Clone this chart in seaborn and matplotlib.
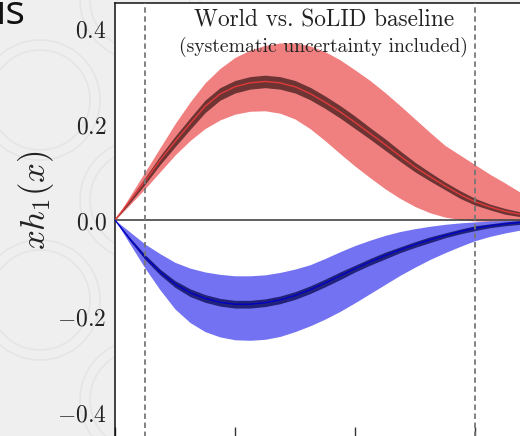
import matplotlib
matplotlib.use("Agg")
import numpy as np
import pandas as pd
import matplotlib.pyplot as plt
import seaborn as sns
from matplotlib.patches import Circle
from matplotlib.transforms import IdentityTransform

# ---------------- data ----------------
x_vals = [0.000, 0.025, 0.050, 0.075, 0.100, 0.125, 0.150, 0.175, 0.200, 0.225,
          0.250, 0.275, 0.300, 0.325, 0.350, 0.375, 0.400, 0.425, 0.450, 0.475,
          0.500, 0.525, 0.550, 0.575, 0.600, 0.625, 0.650, 0.675, 0.700]

red_mid = [0.000, 0.040, 0.081, 0.124, 0.163, 0.200, 0.236, 0.262, 0.277, 0.285,
           0.288, 0.285, 0.277, 0.263, 0.245, 0.225, 0.203, 0.180, 0.157, 0.133,
           0.110, 0.090, 0.071, 0.053, 0.038, 0.027, 0.018, 0.012, 0.008]
red_hi = [0.000, 0.050, 0.100, 0.150, 0.200, 0.245, 0.285, 0.315, 0.338, 0.353,
          0.363, 0.368, 0.368, 0.362, 0.350, 0.333, 0.312, 0.290, 0.265, 0.238,
          0.210, 0.182, 0.155, 0.135, 0.115, 0.095, 0.077, 0.058, 0.045]
red_lo = [0.000, 0.032, 0.065, 0.100, 0.135, 0.165, 0.190, 0.208, 0.220, 0.226,
          0.227, 0.222, 0.210, 0.190, 0.165, 0.138, 0.112, 0.088, 0.065, 0.045,
          0.028, 0.015, 0.006, 0.001, -0.002, -0.003, -0.003, -0.003, -0.003]
red_err = [0.000, 0.004, 0.007, 0.009, 0.011, 0.012, 0.013, 0.013, 0.013, 0.013,
           0.013, 0.013, 0.013, 0.013, 0.013, 0.013, 0.013, 0.012, 0.012, 0.011,
           0.010, 0.009, 0.008, 0.008, 0.007, 0.006, 0.006, 0.005, 0.005]

blue_mid = [0.000, -0.040, -0.077, -0.108, -0.133, -0.151, -0.163, -0.171, -0.175, -0.175,
            -0.172, -0.166, -0.157, -0.145, -0.131, -0.116, -0.101, -0.087, -0.074, -0.062,
            -0.051, -0.041, -0.032, -0.024, -0.017, -0.012, -0.008, -0.005, -0.003]
blue_hi = [0.000, -0.025, -0.050, -0.070, -0.088, -0.100, -0.108, -0.113, -0.116, -0.116,
           -0.114, -0.109, -0.102, -0.093, -0.080, -0.066, -0.053, -0.042, -0.032, -0.024,
           -0.018, -0.013, -0.009, -0.006, -0.004, -0.002, -0.001, 0.000, 0.000]
blue_lo = [0.000, -0.050, -0.100, -0.145, -0.185, -0.213, -0.232, -0.243, -0.249, -0.250,
           -0.248, -0.242, -0.232, -0.220, -0.206, -0.190, -0.172, -0.153, -0.134, -0.115,
           -0.098, -0.082, -0.068, -0.055, -0.043, -0.034, -0.027, -0.021, -0.016]
blue_err = [0.000, 0.003, 0.005, 0.006, 0.007, 0.008, 0.008, 0.008, 0.008, 0.008,
            0.008, 0.008, 0.008, 0.008, 0.008, 0.008, 0.007, 0.007, 0.007, 0.006,
            0.006, 0.006, 0.005, 0.005, 0.005, 0.004, 0.004, 0.004, 0.004]

x_bounds = [0.05, 0.6]
x_ticks = [0.0, 0.2, 0.4, 0.6, 0.8, 1.0]
y_ticks = [-0.4, -0.2, 0.0, 0.2, 0.4]
y_tick_labels = [r"$-0.4$", r"$-0.2$", r"$0.0$", r"$0.2$", r"$0.4$"]
title_main = "World vs. SoLID baseline"
title_sub = "(systematic uncertainty included)"
y_label = r"$xh_1(x)$"
corner_text = "is"

# ---------------- styling ----------------
sns.set_theme(style="white")
plt.rcParams["mathtext.fontset"] = "cm"
plt.rcParams["font.family"] = ["DejaVu Sans"]

W, H = 520, 436
fig = plt.figure(figsize=(W / 100, H / 100), dpi=100, facecolor="#efefef")

# faint slide ornament in the background (pixel coordinates, y from bottom)
for (cx, cy) in [(40, H - 100), (40, H - 300), (140, H - 200), (140, H - 400), (140, H)]:
    for r in (50, 60):
        fig.add_artist(Circle((cx, cy), r, transform=IdentityTransform(),
                              fill=False, ec="#e5e5e5", lw=1.2, zorder=0))

ax = fig.add_axes([115 / W, (H - 436.5) / H, 600 / W, 433 / H])
ax.set_facecolor("white")
ax.set_zorder(2)

df = pd.DataFrame({"x": x_vals, "red_mid": red_mid, "red_hi": red_hi, "red_lo": red_lo,
                   "red_err": red_err, "blue_mid": blue_mid, "blue_hi": blue_hi,
                   "blue_lo": blue_lo, "blue_err": blue_err})

# red (outer / inner)
ax.fill_between(df["x"], df["red_lo"], df["red_hi"], color="#f08080", lw=0, zorder=1)
ax.fill_between(df["x"], df["red_mid"] - df["red_err"], df["red_mid"] + df["red_err"],
                color="#6e3434", lw=0, zorder=2)
sns.lineplot(data=df, x="x", y="red_mid", ax=ax, color="#e03a3a", lw=1.0, zorder=3)

# blue (outer / inner)
ax.fill_between(df["x"], df["blue_lo"], df["blue_hi"], color="#7272f2", lw=0, zorder=1.5)
ax.fill_between(df["x"], df["blue_mid"] - df["blue_err"], df["blue_mid"] + df["blue_err"],
                color="#22227a", lw=0, zorder=2.5)
sns.lineplot(data=df, x="x", y="blue_mid", ax=ax, color="#0000c8", lw=1.0, zorder=3.5)

ax.axhline(0.0, color="#444444", lw=1.2, zorder=2.2)
for xb in x_bounds:
    ax.axvline(xb, color="#777777", lw=1.3, ls=(0, (3.0, 2.0)), zorder=5)

ax.set_xlim(0.0, 1.0)
ax.set_ylim(-0.45, 0.45)
ax.set_xticks(x_ticks)
ax.set_yticks(y_ticks, y_tick_labels)
ax.tick_params(axis="x", direction="in", length=7, width=1, color="#333333",
               labelbottom=False, bottom=True)
ax.tick_params(axis="y", direction="inout", length=8, width=1, color="#222222",
               labelsize=17, pad=2, labelcolor="#222222")
ax.set_xlabel("")
ax.set_ylabel("")
for side, sp in ax.spines.items():
    sp.set_color("#111111")
    sp.set_linewidth(1.1)

# texts
fig.text(324 / W, 1 - 20 / H, title_main, ha="center", va="center",
         fontfamily="cmr10", fontsize=16.8, color="#222222", zorder=10)
fig.text(323.5 / W, 1 - 47 / H, title_sub, ha="center", va="center",
         fontfamily="cmr10", fontsize=14.2, color="#222222", zorder=10)
fig.text(36 / W, 1 - 200 / H, y_label, rotation=90, ha="center", va="center",
         fontsize=25, color="#222222")
fig.text(-4 / W, 1 - 24 / H, corner_text, ha="left", va="baseline",
         fontfamily="Open Sans", fontsize=29.5, color="#111111")

fig.savefig("out.png", dpi=100, facecolor=fig.get_facecolor())
